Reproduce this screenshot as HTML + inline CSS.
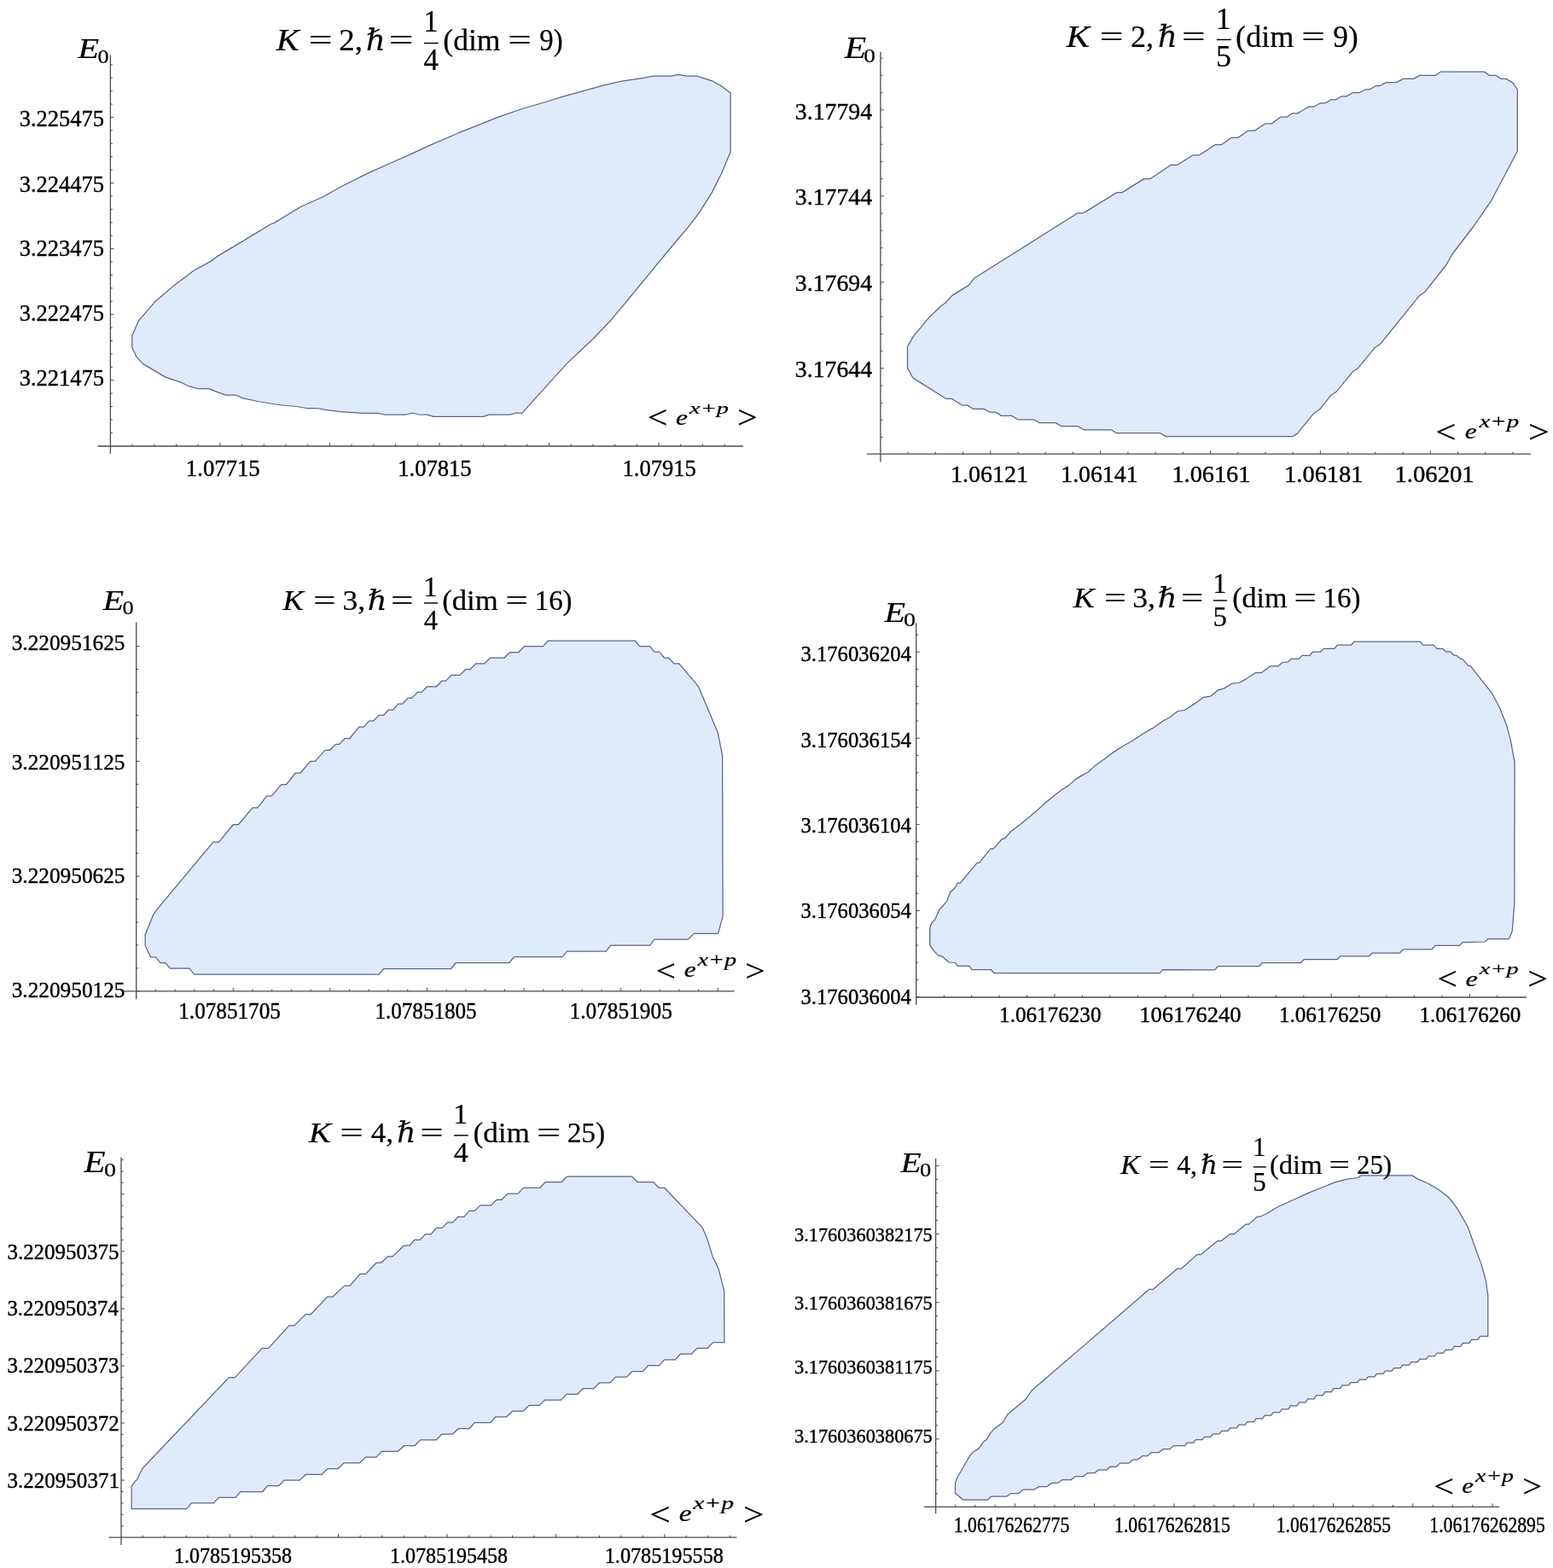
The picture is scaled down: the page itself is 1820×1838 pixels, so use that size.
<!DOCTYPE html>
<html><head><meta charset="utf-8"><style>
html,body{margin:0;padding:0;background:#fff;}
svg{display:block;}
text{font-family:"Liberation Serif","DejaVu Serif",serif;fill:#000;font-kerning:none;stroke:#000;stroke-width:0.22px;}
text.t{stroke-width:0.4px;}
</style></head><body>
<svg width="1820" height="1838" viewBox="0 0 1820 1838">
<rect width="1820" height="1838" fill="#fff"/>
<polygon points="339.8,250.0 322.0,260.9 316.0,263.5 286.4,281.6 254.7,300.4 246.8,306.4 227.0,317.3 215.2,326.2 203.3,335.1 181.5,353.8 162.7,375.6 154.8,393.4 154.8,407.3 159.8,418.1 167.7,426.6 193.4,441.9 211.2,447.8 221.1,452.7 232.0,455.7 244.8,455.7 254.7,459.7 264.6,463.2 276.5,463.2 284.4,466.6 302.2,470.5 325.9,474.5 347.7,476.5 359.6,478.5 371.4,478.5 381.3,480.4 397.1,482.4 424.8,484.4 442.6,484.4 450.6,486.0 476.3,486.0 483.2,484.0 490.1,486.0 501.1,486.1 508.1,488.4 566.2,488.4 573.2,486.1 597.8,486.1 604.8,484.0 611.6,484.3 664.6,425.9 682.2,409.2 694.5,397.8 715.6,375.8 794.7,280.0 804.8,268.4 819.6,249.1 834.5,225.4 846.3,201.7 856.1,177.9 856.1,109.1 846.3,101.4 834.5,94.8 816.6,89.2 804.8,89.2 794.4,87.4 787.0,89.2 766.2,89.2 754.3,91.3 727.6,95.4 706.9,100.2 656.4,114.1 644.5,118.0 611.9,127.5 582.2,137.9 567.4,143.8 537.7,155.7 508.0,168.4 484.3,179.4 457.6,191.3 430.9,203.1 401.2,218.0 377.5,231.3 353.7,241.7" fill="#dfebfa" stroke="#5f6190" stroke-width="1.25" stroke-linejoin="round"/>
<line x1="129.4" y1="64.4" x2="129.4" y2="531.7" stroke="#4a4a4a" stroke-width="1.3"/>
<line x1="114.5" y1="523.0" x2="870.9" y2="523.0" stroke="#4a4a4a" stroke-width="1.3"/>
<line x1="129.4" y1="75.9" x2="131.9" y2="75.9" stroke="#4a4a4a" stroke-width="1.0"/>
<line x1="129.4" y1="91.3" x2="131.9" y2="91.3" stroke="#4a4a4a" stroke-width="1.0"/>
<line x1="129.4" y1="106.7" x2="131.9" y2="106.7" stroke="#4a4a4a" stroke-width="1.0"/>
<line x1="129.4" y1="122.1" x2="131.9" y2="122.1" stroke="#4a4a4a" stroke-width="1.0"/>
<line x1="129.4" y1="137.5" x2="133.4" y2="137.5" stroke="#4a4a4a" stroke-width="1.0"/>
<line x1="129.4" y1="152.9" x2="131.9" y2="152.9" stroke="#4a4a4a" stroke-width="1.0"/>
<line x1="129.4" y1="168.3" x2="131.9" y2="168.3" stroke="#4a4a4a" stroke-width="1.0"/>
<line x1="129.4" y1="183.7" x2="131.9" y2="183.7" stroke="#4a4a4a" stroke-width="1.0"/>
<line x1="129.4" y1="199.1" x2="131.9" y2="199.1" stroke="#4a4a4a" stroke-width="1.0"/>
<line x1="129.4" y1="214.6" x2="133.4" y2="214.6" stroke="#4a4a4a" stroke-width="1.0"/>
<line x1="129.4" y1="230.0" x2="131.9" y2="230.0" stroke="#4a4a4a" stroke-width="1.0"/>
<line x1="129.4" y1="245.4" x2="131.9" y2="245.4" stroke="#4a4a4a" stroke-width="1.0"/>
<line x1="129.4" y1="260.8" x2="131.9" y2="260.8" stroke="#4a4a4a" stroke-width="1.0"/>
<line x1="129.4" y1="276.2" x2="131.9" y2="276.2" stroke="#4a4a4a" stroke-width="1.0"/>
<line x1="129.4" y1="291.6" x2="133.4" y2="291.6" stroke="#4a4a4a" stroke-width="1.0"/>
<line x1="129.4" y1="307.0" x2="131.9" y2="307.0" stroke="#4a4a4a" stroke-width="1.0"/>
<line x1="129.4" y1="322.4" x2="131.9" y2="322.4" stroke="#4a4a4a" stroke-width="1.0"/>
<line x1="129.4" y1="337.8" x2="131.9" y2="337.8" stroke="#4a4a4a" stroke-width="1.0"/>
<line x1="129.4" y1="353.2" x2="131.9" y2="353.2" stroke="#4a4a4a" stroke-width="1.0"/>
<line x1="129.4" y1="368.7" x2="133.4" y2="368.7" stroke="#4a4a4a" stroke-width="1.0"/>
<line x1="129.4" y1="384.1" x2="131.9" y2="384.1" stroke="#4a4a4a" stroke-width="1.0"/>
<line x1="129.4" y1="399.5" x2="131.9" y2="399.5" stroke="#4a4a4a" stroke-width="1.0"/>
<line x1="129.4" y1="414.9" x2="131.9" y2="414.9" stroke="#4a4a4a" stroke-width="1.0"/>
<line x1="129.4" y1="430.3" x2="131.9" y2="430.3" stroke="#4a4a4a" stroke-width="1.0"/>
<line x1="129.4" y1="445.7" x2="133.4" y2="445.7" stroke="#4a4a4a" stroke-width="1.0"/>
<line x1="129.4" y1="461.1" x2="131.9" y2="461.1" stroke="#4a4a4a" stroke-width="1.0"/>
<line x1="129.4" y1="476.5" x2="131.9" y2="476.5" stroke="#4a4a4a" stroke-width="1.0"/>
<line x1="129.4" y1="491.9" x2="131.9" y2="491.9" stroke="#4a4a4a" stroke-width="1.0"/>
<line x1="129.4" y1="507.3" x2="131.9" y2="507.3" stroke="#4a4a4a" stroke-width="1.0"/>
<line x1="155.1" y1="523.0" x2="155.1" y2="520.5" stroke="#4a4a4a" stroke-width="1.0"/>
<line x1="180.8" y1="523.0" x2="180.8" y2="520.5" stroke="#4a4a4a" stroke-width="1.0"/>
<line x1="206.5" y1="523.0" x2="206.5" y2="520.5" stroke="#4a4a4a" stroke-width="1.0"/>
<line x1="232.2" y1="523.0" x2="232.2" y2="520.5" stroke="#4a4a4a" stroke-width="1.0"/>
<line x1="257.9" y1="523.0" x2="257.9" y2="519.0" stroke="#4a4a4a" stroke-width="1.0"/>
<line x1="283.6" y1="523.0" x2="283.6" y2="520.5" stroke="#4a4a4a" stroke-width="1.0"/>
<line x1="309.3" y1="523.0" x2="309.3" y2="520.5" stroke="#4a4a4a" stroke-width="1.0"/>
<line x1="335.0" y1="523.0" x2="335.0" y2="520.5" stroke="#4a4a4a" stroke-width="1.0"/>
<line x1="360.7" y1="523.0" x2="360.7" y2="520.5" stroke="#4a4a4a" stroke-width="1.0"/>
<line x1="386.4" y1="523.0" x2="386.4" y2="519.0" stroke="#4a4a4a" stroke-width="1.0"/>
<line x1="412.1" y1="523.0" x2="412.1" y2="520.5" stroke="#4a4a4a" stroke-width="1.0"/>
<line x1="437.9" y1="523.0" x2="437.9" y2="520.5" stroke="#4a4a4a" stroke-width="1.0"/>
<line x1="463.6" y1="523.0" x2="463.6" y2="520.5" stroke="#4a4a4a" stroke-width="1.0"/>
<line x1="489.3" y1="523.0" x2="489.3" y2="520.5" stroke="#4a4a4a" stroke-width="1.0"/>
<line x1="515.0" y1="523.0" x2="515.0" y2="519.0" stroke="#4a4a4a" stroke-width="1.0"/>
<line x1="540.7" y1="523.0" x2="540.7" y2="520.5" stroke="#4a4a4a" stroke-width="1.0"/>
<line x1="566.4" y1="523.0" x2="566.4" y2="520.5" stroke="#4a4a4a" stroke-width="1.0"/>
<line x1="592.1" y1="523.0" x2="592.1" y2="520.5" stroke="#4a4a4a" stroke-width="1.0"/>
<line x1="617.8" y1="523.0" x2="617.8" y2="520.5" stroke="#4a4a4a" stroke-width="1.0"/>
<line x1="643.5" y1="523.0" x2="643.5" y2="519.0" stroke="#4a4a4a" stroke-width="1.0"/>
<line x1="669.2" y1="523.0" x2="669.2" y2="520.5" stroke="#4a4a4a" stroke-width="1.0"/>
<line x1="694.9" y1="523.0" x2="694.9" y2="520.5" stroke="#4a4a4a" stroke-width="1.0"/>
<line x1="720.6" y1="523.0" x2="720.6" y2="520.5" stroke="#4a4a4a" stroke-width="1.0"/>
<line x1="746.3" y1="523.0" x2="746.3" y2="520.5" stroke="#4a4a4a" stroke-width="1.0"/>
<line x1="772.0" y1="523.0" x2="772.0" y2="519.0" stroke="#4a4a4a" stroke-width="1.0"/>
<line x1="797.7" y1="523.0" x2="797.7" y2="520.5" stroke="#4a4a4a" stroke-width="1.0"/>
<line x1="823.4" y1="523.0" x2="823.4" y2="520.5" stroke="#4a4a4a" stroke-width="1.0"/>
<line x1="849.1" y1="523.0" x2="849.1" y2="520.5" stroke="#4a4a4a" stroke-width="1.0"/>
<text x="22.63" y="148.40" font-size="26.60" textLength="99.51" lengthAdjust="spacingAndGlyphs" class="t">3.225475</text>
<text x="22.63" y="224.80" font-size="26.60" textLength="99.51" lengthAdjust="spacingAndGlyphs" class="t">3.224475</text>
<text x="22.63" y="300.10" font-size="26.60" textLength="99.51" lengthAdjust="spacingAndGlyphs" class="t">3.223475</text>
<text x="22.63" y="375.90" font-size="26.60" textLength="99.51" lengthAdjust="spacingAndGlyphs" class="t">3.222475</text>
<text x="22.63" y="452.30" font-size="26.60" textLength="99.51" lengthAdjust="spacingAndGlyphs" class="t">3.221475</text>
<text x="217.85" y="558.30" font-size="27.00" textLength="86.89" lengthAdjust="spacingAndGlyphs" class="t">1.07715</text>
<text x="466.26" y="558.30" font-size="27.00" textLength="86.37" lengthAdjust="spacingAndGlyphs" class="t">1.07815</text>
<text x="729.57" y="558.30" font-size="27.00" textLength="86.27" lengthAdjust="spacingAndGlyphs" class="t">1.07915</text>
<text x="91.38" y="68.45" font-size="33.60" textLength="24.88" lengthAdjust="spacingAndGlyphs" font-style="italic">E</text>
<text x="114.40" y="74.02" font-size="23.12" textLength="13.09" lengthAdjust="spacingAndGlyphs">0</text>
<text x="758.70" y="502.32" font-size="37.10" textLength="23.75" lengthAdjust="spacingAndGlyphs">&lt;</text>
<text x="864.06" y="502.32" font-size="37.10" textLength="23.75" lengthAdjust="spacingAndGlyphs">&gt;</text>
<text x="792.13" y="497.99" font-size="26.20" textLength="13.98" lengthAdjust="spacingAndGlyphs" font-style="italic">e</text>
<text x="808.05" y="484.74" font-size="19.80" textLength="45.91" lengthAdjust="spacingAndGlyphs" font-style="italic">x+p</text>
<text x="323.87" y="59.20" font-size="34.80" textLength="26.80" lengthAdjust="spacingAndGlyphs" font-style="italic">K</text>
<text x="361.75" y="59.20" font-size="34.80" textLength="27.75" lengthAdjust="spacingAndGlyphs">=</text>
<text x="397.38" y="59.20" font-size="34.80" textLength="27.64" lengthAdjust="spacingAndGlyphs">2,</text>
<text x="428.99" y="59.20" font-size="34.80" textLength="22.75" lengthAdjust="spacingAndGlyphs" font-style="italic" font-family="DejaVu Serif, serif">ℏ</text>
<text x="455.86" y="59.20" font-size="34.80" textLength="28.72" lengthAdjust="spacingAndGlyphs">=</text>
<text x="519.34" y="59.20" font-size="34.80" textLength="67.12" lengthAdjust="spacingAndGlyphs">(dim</text>
<text x="595.37" y="59.20" font-size="34.80" textLength="27.51" lengthAdjust="spacingAndGlyphs">=</text>
<text x="632.35" y="59.20" font-size="34.80" textLength="27.19" lengthAdjust="spacingAndGlyphs">9)</text>
<line x1="496.9" y1="50.6" x2="513.8" y2="50.6" stroke="#000" stroke-width="1.45"/>
<text x="496.17" y="36.50" font-size="34.80" textLength="17.40" lengthAdjust="spacingAndGlyphs">1</text>
<text x="496.58" y="82.40" font-size="34.80" textLength="17.40" lengthAdjust="spacingAndGlyphs">4</text>
<polygon points="1262.6,250.0 1141.5,326.2 1135.7,334.1 1115.9,346.4 1108.5,354.7 1102.7,358.8 1089.6,371.2 1069.8,395.1 1063.5,406.6 1063.5,431.3 1069.8,442.9 1108.5,467.3 1115.1,467.3 1127.5,475.0 1134.1,475.0 1140.7,479.4 1153.0,479.4 1160.4,483.2 1167.0,483.2 1173.6,487.4 1186.0,487.4 1192.6,491.8 1211.5,491.8 1218.1,495.6 1237.1,495.6 1243.7,499.7 1263.5,499.7 1270.1,503.8 1302.2,503.8 1308.0,507.5 1359.8,507.7 1366.4,511.6 1514.7,511.6 1520.2,508.4 1540.0,484.2 1546.6,479.8 1559.8,463.3 1566.4,458.9 1585.1,435.8 1591.6,431.4 1611.4,407.3 1618.0,402.9 1663.1,346.8 1669.7,342.4 1694.9,310.5 1701.5,298.5 1726.8,265.5 1736.6,251.3 1747.1,236.2 1778.3,177.3 1778.3,104.8 1772.8,97.2 1765.2,92.4 1759.2,92.4 1753.2,88.4 1745.6,88.4 1739.6,84.2 1688.2,84.2 1682.2,88.4 1664.0,88.4 1656.5,92.4 1644.4,92.4 1636.8,96.6 1624.7,96.6 1617.2,100.5 1612.7,100.5 1605.1,104.8 1600.6,104.8 1593.0,108.7 1585.4,108.7 1577.9,112.9 1571.8,112.9 1565.8,116.8 1559.8,116.8 1553.7,120.8 1547.7,120.8 1540.1,125.0 1534.1,125.0 1520.5,132.9 1514.4,132.9 1508.4,137.1 1500.8,137.1 1490.3,144.9 1482.7,144.9 1470.6,153.1 1463.1,153.1 1451.0,161.3 1443.4,161.3 1431.3,169.7 1423.8,169.7 1405.6,181.8 1398.1,181.8 1380.0,193.3 1372.4,193.3 1348.2,209.6 1340.7,209.6 1315.0,225.6 1308.9,225.6 1269.6,249.8 1263.6,249.8" fill="#dfebfa" stroke="#5f6190" stroke-width="1.25" stroke-linejoin="round"/>
<line x1="1031.9" y1="60.7" x2="1031.9" y2="541.5" stroke="#4a4a4a" stroke-width="1.3"/>
<line x1="1015.8" y1="532.1" x2="1794.2" y2="532.1" stroke="#4a4a4a" stroke-width="1.3"/>
<line x1="1031.9" y1="68.2" x2="1034.4" y2="68.2" stroke="#4a4a4a" stroke-width="1.0"/>
<line x1="1031.9" y1="88.4" x2="1034.4" y2="88.4" stroke="#4a4a4a" stroke-width="1.0"/>
<line x1="1031.9" y1="108.6" x2="1034.4" y2="108.6" stroke="#4a4a4a" stroke-width="1.0"/>
<line x1="1031.9" y1="128.8" x2="1035.9" y2="128.8" stroke="#4a4a4a" stroke-width="1.0"/>
<line x1="1031.9" y1="149.0" x2="1034.4" y2="149.0" stroke="#4a4a4a" stroke-width="1.0"/>
<line x1="1031.9" y1="169.2" x2="1034.4" y2="169.2" stroke="#4a4a4a" stroke-width="1.0"/>
<line x1="1031.9" y1="189.4" x2="1034.4" y2="189.4" stroke="#4a4a4a" stroke-width="1.0"/>
<line x1="1031.9" y1="209.6" x2="1034.4" y2="209.6" stroke="#4a4a4a" stroke-width="1.0"/>
<line x1="1031.9" y1="229.8" x2="1035.9" y2="229.8" stroke="#4a4a4a" stroke-width="1.0"/>
<line x1="1031.9" y1="250.0" x2="1034.4" y2="250.0" stroke="#4a4a4a" stroke-width="1.0"/>
<line x1="1031.9" y1="270.2" x2="1034.4" y2="270.2" stroke="#4a4a4a" stroke-width="1.0"/>
<line x1="1031.9" y1="290.4" x2="1034.4" y2="290.4" stroke="#4a4a4a" stroke-width="1.0"/>
<line x1="1031.9" y1="310.6" x2="1034.4" y2="310.6" stroke="#4a4a4a" stroke-width="1.0"/>
<line x1="1031.9" y1="330.8" x2="1035.9" y2="330.8" stroke="#4a4a4a" stroke-width="1.0"/>
<line x1="1031.9" y1="351.0" x2="1034.4" y2="351.0" stroke="#4a4a4a" stroke-width="1.0"/>
<line x1="1031.9" y1="371.2" x2="1034.4" y2="371.2" stroke="#4a4a4a" stroke-width="1.0"/>
<line x1="1031.9" y1="391.4" x2="1034.4" y2="391.4" stroke="#4a4a4a" stroke-width="1.0"/>
<line x1="1031.9" y1="411.6" x2="1034.4" y2="411.6" stroke="#4a4a4a" stroke-width="1.0"/>
<line x1="1031.9" y1="431.8" x2="1035.9" y2="431.8" stroke="#4a4a4a" stroke-width="1.0"/>
<line x1="1031.9" y1="452.0" x2="1034.4" y2="452.0" stroke="#4a4a4a" stroke-width="1.0"/>
<line x1="1031.9" y1="472.2" x2="1034.4" y2="472.2" stroke="#4a4a4a" stroke-width="1.0"/>
<line x1="1031.9" y1="492.4" x2="1034.4" y2="492.4" stroke="#4a4a4a" stroke-width="1.0"/>
<line x1="1031.9" y1="512.6" x2="1034.4" y2="512.6" stroke="#4a4a4a" stroke-width="1.0"/>
<line x1="1064.1" y1="532.1" x2="1064.1" y2="529.6" stroke="#4a4a4a" stroke-width="1.0"/>
<line x1="1096.3" y1="532.1" x2="1096.3" y2="529.6" stroke="#4a4a4a" stroke-width="1.0"/>
<line x1="1128.5" y1="532.1" x2="1128.5" y2="529.6" stroke="#4a4a4a" stroke-width="1.0"/>
<line x1="1160.8" y1="532.1" x2="1160.8" y2="528.1" stroke="#4a4a4a" stroke-width="1.0"/>
<line x1="1193.0" y1="532.1" x2="1193.0" y2="529.6" stroke="#4a4a4a" stroke-width="1.0"/>
<line x1="1225.2" y1="532.1" x2="1225.2" y2="529.6" stroke="#4a4a4a" stroke-width="1.0"/>
<line x1="1257.4" y1="532.1" x2="1257.4" y2="529.6" stroke="#4a4a4a" stroke-width="1.0"/>
<line x1="1289.6" y1="532.1" x2="1289.6" y2="528.1" stroke="#4a4a4a" stroke-width="1.0"/>
<line x1="1321.9" y1="532.1" x2="1321.9" y2="529.6" stroke="#4a4a4a" stroke-width="1.0"/>
<line x1="1354.1" y1="532.1" x2="1354.1" y2="529.6" stroke="#4a4a4a" stroke-width="1.0"/>
<line x1="1386.3" y1="532.1" x2="1386.3" y2="529.6" stroke="#4a4a4a" stroke-width="1.0"/>
<line x1="1418.5" y1="532.1" x2="1418.5" y2="528.1" stroke="#4a4a4a" stroke-width="1.0"/>
<line x1="1450.7" y1="532.1" x2="1450.7" y2="529.6" stroke="#4a4a4a" stroke-width="1.0"/>
<line x1="1483.0" y1="532.1" x2="1483.0" y2="529.6" stroke="#4a4a4a" stroke-width="1.0"/>
<line x1="1515.2" y1="532.1" x2="1515.2" y2="529.6" stroke="#4a4a4a" stroke-width="1.0"/>
<line x1="1547.4" y1="532.1" x2="1547.4" y2="528.1" stroke="#4a4a4a" stroke-width="1.0"/>
<line x1="1579.6" y1="532.1" x2="1579.6" y2="529.6" stroke="#4a4a4a" stroke-width="1.0"/>
<line x1="1611.8" y1="532.1" x2="1611.8" y2="529.6" stroke="#4a4a4a" stroke-width="1.0"/>
<line x1="1644.1" y1="532.1" x2="1644.1" y2="529.6" stroke="#4a4a4a" stroke-width="1.0"/>
<line x1="1676.3" y1="532.1" x2="1676.3" y2="528.1" stroke="#4a4a4a" stroke-width="1.0"/>
<line x1="1708.5" y1="532.1" x2="1708.5" y2="529.6" stroke="#4a4a4a" stroke-width="1.0"/>
<line x1="1740.7" y1="532.1" x2="1740.7" y2="529.6" stroke="#4a4a4a" stroke-width="1.0"/>
<line x1="1772.9" y1="532.1" x2="1772.9" y2="529.6" stroke="#4a4a4a" stroke-width="1.0"/>
<text x="931.87" y="140.20" font-size="28.30" textLength="90.16" lengthAdjust="spacingAndGlyphs" class="t">3.17794</text>
<text x="931.87" y="240.10" font-size="28.30" textLength="90.16" lengthAdjust="spacingAndGlyphs" class="t">3.17744</text>
<text x="931.87" y="340.90" font-size="28.30" textLength="90.16" lengthAdjust="spacingAndGlyphs" class="t">3.17694</text>
<text x="931.87" y="441.70" font-size="28.30" textLength="90.16" lengthAdjust="spacingAndGlyphs" class="t">3.17644</text>
<text x="1114.04" y="564.50" font-size="27.60" textLength="90.94" lengthAdjust="spacingAndGlyphs" class="t">1.06121</text>
<text x="1243.26" y="564.50" font-size="27.60" textLength="90.31" lengthAdjust="spacingAndGlyphs" class="t">1.06141</text>
<text x="1373.41" y="564.50" font-size="27.60" textLength="91.99" lengthAdjust="spacingAndGlyphs" class="t">1.06161</text>
<text x="1505.10" y="564.50" font-size="27.60" textLength="92.41" lengthAdjust="spacingAndGlyphs" class="t">1.06181</text>
<text x="1634.48" y="564.50" font-size="27.60" textLength="93.24" lengthAdjust="spacingAndGlyphs" class="t">1.06201</text>
<text x="989.69" y="67.55" font-size="35.28" textLength="25.48" lengthAdjust="spacingAndGlyphs" font-style="italic">E</text>
<text x="1012.36" y="72.82" font-size="23.71" textLength="13.68" lengthAdjust="spacingAndGlyphs">0</text>
<text x="1682.16" y="518.66" font-size="37.52" textLength="24.24" lengthAdjust="spacingAndGlyphs">&lt;</text>
<text x="1790.98" y="518.66" font-size="37.52" textLength="24.60" lengthAdjust="spacingAndGlyphs">&gt;</text>
<text x="1716.83" y="514.09" font-size="26.20" textLength="13.98" lengthAdjust="spacingAndGlyphs" font-style="italic">e</text>
<text x="1733.55" y="500.81" font-size="20.39" textLength="46.62" lengthAdjust="spacingAndGlyphs" font-style="italic">x+p</text>
<text x="1249.49" y="55.00" font-size="35.90" textLength="27.63" lengthAdjust="spacingAndGlyphs" font-style="italic">K</text>
<text x="1288.75" y="55.00" font-size="35.90" textLength="27.75" lengthAdjust="spacingAndGlyphs">=</text>
<text x="1325.01" y="55.00" font-size="35.90" textLength="27.06" lengthAdjust="spacingAndGlyphs">2,</text>
<text x="1356.99" y="55.00" font-size="35.90" textLength="22.75" lengthAdjust="spacingAndGlyphs" font-style="italic" font-family="DejaVu Serif, serif">ℏ</text>
<text x="1384.97" y="55.00" font-size="35.90" textLength="27.51" lengthAdjust="spacingAndGlyphs">=</text>
<text x="1448.11" y="55.00" font-size="35.90" textLength="68.36" lengthAdjust="spacingAndGlyphs">(dim</text>
<text x="1525.37" y="55.00" font-size="35.90" textLength="27.51" lengthAdjust="spacingAndGlyphs">=</text>
<text x="1562.26" y="55.00" font-size="35.90" textLength="29.39" lengthAdjust="spacingAndGlyphs">9)</text>
<line x1="1425.9" y1="46.5" x2="1442.7" y2="46.5" stroke="#000" stroke-width="1.45"/>
<text x="1424.83" y="33.60" font-size="35.90" textLength="17.95" lengthAdjust="spacingAndGlyphs">1</text>
<text x="1424.98" y="78.10" font-size="35.90" textLength="17.95" lengthAdjust="spacingAndGlyphs">5</text>
<polygon points="170.2,1095.1 171.5,1092.6 179.8,1072.0 183.1,1067.1 249.8,987.1 256.4,987.1 273.4,966.5 279.5,966.5 296.0,946.8 301.8,946.8 312.5,933.1 318.2,933.1 329.8,919.6 335.5,919.6 346.3,906.0 352.0,906.0 363.6,892.4 369.3,892.4 381.0,879.3 386.5,879.3 393.4,872.4 397.5,872.4 404.3,865.5 409.8,865.5 420.8,852.1 426.3,852.1 432.6,845.2 437.3,845.2 444.2,838.4 449.7,838.4 455.2,832.0 460.7,832.0 466.7,825.2 471.6,825.2 478.0,818.3 482.6,818.3 489.5,811.4 494.2,811.4 500.5,804.8 511.5,804.8 517.8,798.2 522.5,798.2 528.8,791.4 539.0,791.4 545.8,784.5 551.3,784.5 557.6,777.9 567.8,777.9 574.7,771.0 591.2,771.0 597.5,764.5 607.6,764.5 614.5,757.6 636.5,757.6 642.5,751.0 744.2,751.0 749.7,757.6 761.5,757.6 767.0,764.2 772.5,764.2 778.5,771.0 783.5,771.0 789.8,777.9 795.8,777.9 818.4,804.6 841.2,858.7 846.6,885.6 847.1,1074.1 841.6,1094.3 813.0,1094.3 806.7,1101.2 766.8,1101.2 761.7,1108.2 715.7,1108.2 710.2,1115.1 664.7,1115.1 658.8,1121.6 602.5,1121.6 596.9,1128.5 534.2,1128.5 528.7,1135.5 449.8,1135.5 444.0,1142.2 227.6,1142.1 221.8,1135.2 199.2,1135.2 193.8,1128.6 188.0,1128.6 182.3,1121.8 176.5,1121.8 170.2,1108.3" fill="#dfebfa" stroke="#5f6190" stroke-width="1.25" stroke-linejoin="round"/>
<line x1="159.7" y1="729.5" x2="159.7" y2="1171.3" stroke="#4a4a4a" stroke-width="1.3"/>
<line x1="145.3" y1="1161.9" x2="860.7" y2="1161.9" stroke="#4a4a4a" stroke-width="1.3"/>
<line x1="159.7" y1="757.7" x2="163.7" y2="757.7" stroke="#4a4a4a" stroke-width="1.0"/>
<line x1="159.7" y1="784.6" x2="162.2" y2="784.6" stroke="#4a4a4a" stroke-width="1.0"/>
<line x1="159.7" y1="811.6" x2="162.2" y2="811.6" stroke="#4a4a4a" stroke-width="1.0"/>
<line x1="159.7" y1="838.5" x2="162.2" y2="838.5" stroke="#4a4a4a" stroke-width="1.0"/>
<line x1="159.7" y1="865.5" x2="162.2" y2="865.5" stroke="#4a4a4a" stroke-width="1.0"/>
<line x1="159.7" y1="892.4" x2="163.7" y2="892.4" stroke="#4a4a4a" stroke-width="1.0"/>
<line x1="159.7" y1="919.3" x2="162.2" y2="919.3" stroke="#4a4a4a" stroke-width="1.0"/>
<line x1="159.7" y1="946.3" x2="162.2" y2="946.3" stroke="#4a4a4a" stroke-width="1.0"/>
<line x1="159.7" y1="973.2" x2="162.2" y2="973.2" stroke="#4a4a4a" stroke-width="1.0"/>
<line x1="159.7" y1="1000.2" x2="162.2" y2="1000.2" stroke="#4a4a4a" stroke-width="1.0"/>
<line x1="159.7" y1="1027.1" x2="163.7" y2="1027.1" stroke="#4a4a4a" stroke-width="1.0"/>
<line x1="159.7" y1="1054.0" x2="162.2" y2="1054.0" stroke="#4a4a4a" stroke-width="1.0"/>
<line x1="159.7" y1="1081.0" x2="162.2" y2="1081.0" stroke="#4a4a4a" stroke-width="1.0"/>
<line x1="159.7" y1="1107.9" x2="162.2" y2="1107.9" stroke="#4a4a4a" stroke-width="1.0"/>
<line x1="159.7" y1="1134.9" x2="162.2" y2="1134.9" stroke="#4a4a4a" stroke-width="1.0"/>
<line x1="159.7" y1="1161.8" x2="163.7" y2="1161.8" stroke="#4a4a4a" stroke-width="1.0"/>
<line x1="182.4" y1="1161.9" x2="182.4" y2="1159.4" stroke="#4a4a4a" stroke-width="1.0"/>
<line x1="205.1" y1="1161.9" x2="205.1" y2="1159.4" stroke="#4a4a4a" stroke-width="1.0"/>
<line x1="227.8" y1="1161.9" x2="227.8" y2="1159.4" stroke="#4a4a4a" stroke-width="1.0"/>
<line x1="250.6" y1="1161.9" x2="250.6" y2="1159.4" stroke="#4a4a4a" stroke-width="1.0"/>
<line x1="273.3" y1="1161.9" x2="273.3" y2="1157.9" stroke="#4a4a4a" stroke-width="1.0"/>
<line x1="296.0" y1="1161.9" x2="296.0" y2="1159.4" stroke="#4a4a4a" stroke-width="1.0"/>
<line x1="318.7" y1="1161.9" x2="318.7" y2="1159.4" stroke="#4a4a4a" stroke-width="1.0"/>
<line x1="341.4" y1="1161.9" x2="341.4" y2="1159.4" stroke="#4a4a4a" stroke-width="1.0"/>
<line x1="364.2" y1="1161.9" x2="364.2" y2="1159.4" stroke="#4a4a4a" stroke-width="1.0"/>
<line x1="386.9" y1="1161.9" x2="386.9" y2="1157.9" stroke="#4a4a4a" stroke-width="1.0"/>
<line x1="409.6" y1="1161.9" x2="409.6" y2="1159.4" stroke="#4a4a4a" stroke-width="1.0"/>
<line x1="432.3" y1="1161.9" x2="432.3" y2="1159.4" stroke="#4a4a4a" stroke-width="1.0"/>
<line x1="455.0" y1="1161.9" x2="455.0" y2="1159.4" stroke="#4a4a4a" stroke-width="1.0"/>
<line x1="477.8" y1="1161.9" x2="477.8" y2="1159.4" stroke="#4a4a4a" stroke-width="1.0"/>
<line x1="500.5" y1="1161.9" x2="500.5" y2="1157.9" stroke="#4a4a4a" stroke-width="1.0"/>
<line x1="523.2" y1="1161.9" x2="523.2" y2="1159.4" stroke="#4a4a4a" stroke-width="1.0"/>
<line x1="545.9" y1="1161.9" x2="545.9" y2="1159.4" stroke="#4a4a4a" stroke-width="1.0"/>
<line x1="568.6" y1="1161.9" x2="568.6" y2="1159.4" stroke="#4a4a4a" stroke-width="1.0"/>
<line x1="591.4" y1="1161.9" x2="591.4" y2="1159.4" stroke="#4a4a4a" stroke-width="1.0"/>
<line x1="614.1" y1="1161.9" x2="614.1" y2="1157.9" stroke="#4a4a4a" stroke-width="1.0"/>
<line x1="636.8" y1="1161.9" x2="636.8" y2="1159.4" stroke="#4a4a4a" stroke-width="1.0"/>
<line x1="659.5" y1="1161.9" x2="659.5" y2="1159.4" stroke="#4a4a4a" stroke-width="1.0"/>
<line x1="682.2" y1="1161.9" x2="682.2" y2="1159.4" stroke="#4a4a4a" stroke-width="1.0"/>
<line x1="705.0" y1="1161.9" x2="705.0" y2="1159.4" stroke="#4a4a4a" stroke-width="1.0"/>
<line x1="727.7" y1="1161.9" x2="727.7" y2="1157.9" stroke="#4a4a4a" stroke-width="1.0"/>
<line x1="750.4" y1="1161.9" x2="750.4" y2="1159.4" stroke="#4a4a4a" stroke-width="1.0"/>
<line x1="773.1" y1="1161.9" x2="773.1" y2="1159.4" stroke="#4a4a4a" stroke-width="1.0"/>
<line x1="795.8" y1="1161.9" x2="795.8" y2="1159.4" stroke="#4a4a4a" stroke-width="1.0"/>
<line x1="818.6" y1="1161.9" x2="818.6" y2="1159.4" stroke="#4a4a4a" stroke-width="1.0"/>
<line x1="841.3" y1="1161.9" x2="841.3" y2="1157.9" stroke="#4a4a4a" stroke-width="1.0"/>
<text x="13.69" y="762.20" font-size="25.80" textLength="132.80" lengthAdjust="spacingAndGlyphs" class="t">3.220951625</text>
<text x="13.69" y="902.30" font-size="25.80" textLength="132.80" lengthAdjust="spacingAndGlyphs" class="t">3.220951125</text>
<text x="13.69" y="1035.20" font-size="25.80" textLength="132.80" lengthAdjust="spacingAndGlyphs" class="t">3.220950625</text>
<text x="13.69" y="1169.20" font-size="25.80" textLength="132.80" lengthAdjust="spacingAndGlyphs" class="t">3.220950125</text>
<text x="209.29" y="1194.20" font-size="26.40" textLength="119.60" lengthAdjust="spacingAndGlyphs" class="t">1.07851705</text>
<text x="439.39" y="1194.20" font-size="26.40" textLength="119.29" lengthAdjust="spacingAndGlyphs" class="t">1.07851805</text>
<text x="667.58" y="1194.20" font-size="26.40" textLength="120.21" lengthAdjust="spacingAndGlyphs" class="t">1.07851905</text>
<text x="120.57" y="714.55" font-size="33.75" textLength="24.58" lengthAdjust="spacingAndGlyphs" font-style="italic">E</text>
<text x="143.49" y="720.12" font-size="23.56" textLength="13.21" lengthAdjust="spacingAndGlyphs">0</text>
<text x="768.75" y="1149.66" font-size="36.48" textLength="23.27" lengthAdjust="spacingAndGlyphs">&lt;</text>
<text x="873.30" y="1149.66" font-size="36.48" textLength="23.27" lengthAdjust="spacingAndGlyphs">&gt;</text>
<text x="801.73" y="1145.30" font-size="25.16" textLength="13.98" lengthAdjust="spacingAndGlyphs" font-style="italic">e</text>
<text x="817.64" y="1132.41" font-size="20.39" textLength="45.51" lengthAdjust="spacingAndGlyphs" font-style="italic">x+p</text>
<text x="331.33" y="715.40" font-size="32.80" textLength="24.68" lengthAdjust="spacingAndGlyphs" font-style="italic">K</text>
<text x="367.18" y="715.40" font-size="32.80" textLength="26.30" lengthAdjust="spacingAndGlyphs">=</text>
<text x="401.40" y="715.40" font-size="32.80" textLength="26.64" lengthAdjust="spacingAndGlyphs">3,</text>
<text x="430.99" y="715.40" font-size="32.80" textLength="22.75" lengthAdjust="spacingAndGlyphs" font-style="italic" font-family="DejaVu Serif, serif">ℏ</text>
<text x="458.07" y="715.40" font-size="32.80" textLength="26.42" lengthAdjust="spacingAndGlyphs">=</text>
<text x="518.28" y="715.40" font-size="32.80" textLength="65.36" lengthAdjust="spacingAndGlyphs">(dim</text>
<text x="592.57" y="715.40" font-size="32.80" textLength="26.42" lengthAdjust="spacingAndGlyphs">=</text>
<text x="626.71" y="715.40" font-size="32.80" textLength="43.84" lengthAdjust="spacingAndGlyphs">16)</text>
<line x1="497.0" y1="706.9" x2="512.9" y2="706.9" stroke="#000" stroke-width="1.45"/>
<text x="496.29" y="698.60" font-size="32.80" textLength="16.40" lengthAdjust="spacingAndGlyphs">1</text>
<text x="496.69" y="737.80" font-size="32.80" textLength="16.40" lengthAdjust="spacingAndGlyphs">4</text>
<polygon points="1089.8,1088.0 1091.9,1081.7 1095.7,1077.9 1100.7,1066.5 1109.6,1056.4 1113.4,1046.3 1119.7,1040.0 1122.0,1035.2 1125.3,1035.2 1145.1,1011.3 1147.6,1011.3 1160.8,994.8 1164.1,994.8 1174.8,983.0 1177.3,983.0 1184.7,974.7 1195.4,966.5 1205.3,958.6 1215.2,950.3 1223.4,942.6 1233.3,934.2 1243.2,926.4 1251.4,921.5 1259.7,914.1 1266.3,909.9 1275.3,905.0 1282.7,897.9 1294.3,889.7 1305.8,881.1 1317.4,873.7 1327.3,868.2 1338.0,861.0 1350.3,853.9 1363.5,844.8 1370.0,841.5 1380.4,833.5 1388.5,832.3 1400.0,824.9 1410.4,817.3 1418.5,816.2 1427.7,808.8 1434.6,806.9 1443.8,801.2 1451.9,800.5 1460.0,796.1 1471.5,788.5 1478.5,788.5 1488.8,780.8 1498.1,780.8 1502.7,776.5 1509.6,775.8 1513.1,772.3 1522.3,772.3 1525.8,768.4 1535.0,768.4 1538.5,764.2 1547.7,764.2 1551.2,760.3 1563.8,760.3 1567.3,756.2 1583.5,756.2 1586.9,752.0 1664.2,752.0 1667.7,756.2 1680.4,756.2 1683.8,760.3 1690.8,760.3 1694.2,763.8 1700.0,763.8 1703.5,768.2 1706.9,768.2 1711.5,772.3 1713.8,772.3 1720.8,780.4 1723.1,780.4 1748.5,812.7 1757.7,830.0 1765.8,850.8 1770.4,868.1 1775.0,893.5 1774.8,1059.4 1772.2,1091.6 1768.4,1100.7 1743.8,1100.7 1740.0,1104.0 1714.1,1104.6 1710.2,1108.4 1681.8,1108.4 1678.0,1112.8 1644.4,1112.8 1640.5,1117.0 1608.2,1117.0 1604.4,1120.8 1570.8,1120.8 1566.9,1124.7 1528.2,1124.7 1524.3,1128.6 1479.1,1128.6 1476.0,1132.5 1427.5,1132.5 1423.6,1136.8 1362.3,1136.5 1359.3,1140.6 1164.7,1140.6 1161.4,1136.5 1138.6,1136.5 1136.1,1132.3 1122.2,1132.3 1119.7,1128.5 1112.1,1128.0 1108.3,1124.7 1103.2,1120.4 1100.0,1120.4 1094.4,1114.6 1089.8,1108.2" fill="#dfebfa" stroke="#5f6190" stroke-width="1.25" stroke-linejoin="round"/>
<line x1="1073.7" y1="730.2" x2="1073.7" y2="1177.7" stroke="#4a4a4a" stroke-width="1.3"/>
<line x1="1073.7" y1="1169.0" x2="1789.0" y2="1169.0" stroke="#4a4a4a" stroke-width="1.3"/>
<line x1="1073.7" y1="744.0" x2="1076.2" y2="744.0" stroke="#4a4a4a" stroke-width="1.0"/>
<line x1="1073.7" y1="764.2" x2="1077.7" y2="764.2" stroke="#4a4a4a" stroke-width="1.0"/>
<line x1="1073.7" y1="784.4" x2="1076.2" y2="784.4" stroke="#4a4a4a" stroke-width="1.0"/>
<line x1="1073.7" y1="804.7" x2="1076.2" y2="804.7" stroke="#4a4a4a" stroke-width="1.0"/>
<line x1="1073.7" y1="824.9" x2="1076.2" y2="824.9" stroke="#4a4a4a" stroke-width="1.0"/>
<line x1="1073.7" y1="845.1" x2="1076.2" y2="845.1" stroke="#4a4a4a" stroke-width="1.0"/>
<line x1="1073.7" y1="865.3" x2="1077.7" y2="865.3" stroke="#4a4a4a" stroke-width="1.0"/>
<line x1="1073.7" y1="885.5" x2="1076.2" y2="885.5" stroke="#4a4a4a" stroke-width="1.0"/>
<line x1="1073.7" y1="905.8" x2="1076.2" y2="905.8" stroke="#4a4a4a" stroke-width="1.0"/>
<line x1="1073.7" y1="926.0" x2="1076.2" y2="926.0" stroke="#4a4a4a" stroke-width="1.0"/>
<line x1="1073.7" y1="946.2" x2="1076.2" y2="946.2" stroke="#4a4a4a" stroke-width="1.0"/>
<line x1="1073.7" y1="966.4" x2="1077.7" y2="966.4" stroke="#4a4a4a" stroke-width="1.0"/>
<line x1="1073.7" y1="986.6" x2="1076.2" y2="986.6" stroke="#4a4a4a" stroke-width="1.0"/>
<line x1="1073.7" y1="1006.9" x2="1076.2" y2="1006.9" stroke="#4a4a4a" stroke-width="1.0"/>
<line x1="1073.7" y1="1027.1" x2="1076.2" y2="1027.1" stroke="#4a4a4a" stroke-width="1.0"/>
<line x1="1073.7" y1="1047.3" x2="1076.2" y2="1047.3" stroke="#4a4a4a" stroke-width="1.0"/>
<line x1="1073.7" y1="1067.5" x2="1077.7" y2="1067.5" stroke="#4a4a4a" stroke-width="1.0"/>
<line x1="1073.7" y1="1087.7" x2="1076.2" y2="1087.7" stroke="#4a4a4a" stroke-width="1.0"/>
<line x1="1073.7" y1="1108.0" x2="1076.2" y2="1108.0" stroke="#4a4a4a" stroke-width="1.0"/>
<line x1="1073.7" y1="1128.2" x2="1076.2" y2="1128.2" stroke="#4a4a4a" stroke-width="1.0"/>
<line x1="1073.7" y1="1148.4" x2="1076.2" y2="1148.4" stroke="#4a4a4a" stroke-width="1.0"/>
<line x1="1073.7" y1="1168.6" x2="1077.7" y2="1168.6" stroke="#4a4a4a" stroke-width="1.0"/>
<line x1="1106.3" y1="1169.0" x2="1106.3" y2="1166.5" stroke="#4a4a4a" stroke-width="1.0"/>
<line x1="1138.7" y1="1169.0" x2="1138.7" y2="1166.5" stroke="#4a4a4a" stroke-width="1.0"/>
<line x1="1171.1" y1="1169.0" x2="1171.1" y2="1166.5" stroke="#4a4a4a" stroke-width="1.0"/>
<line x1="1203.6" y1="1169.0" x2="1203.6" y2="1166.5" stroke="#4a4a4a" stroke-width="1.0"/>
<line x1="1236.0" y1="1169.0" x2="1236.0" y2="1165.0" stroke="#4a4a4a" stroke-width="1.0"/>
<line x1="1268.4" y1="1169.0" x2="1268.4" y2="1166.5" stroke="#4a4a4a" stroke-width="1.0"/>
<line x1="1300.8" y1="1169.0" x2="1300.8" y2="1166.5" stroke="#4a4a4a" stroke-width="1.0"/>
<line x1="1333.2" y1="1169.0" x2="1333.2" y2="1166.5" stroke="#4a4a4a" stroke-width="1.0"/>
<line x1="1365.7" y1="1169.0" x2="1365.7" y2="1166.5" stroke="#4a4a4a" stroke-width="1.0"/>
<line x1="1398.1" y1="1169.0" x2="1398.1" y2="1165.0" stroke="#4a4a4a" stroke-width="1.0"/>
<line x1="1430.5" y1="1169.0" x2="1430.5" y2="1166.5" stroke="#4a4a4a" stroke-width="1.0"/>
<line x1="1462.9" y1="1169.0" x2="1462.9" y2="1166.5" stroke="#4a4a4a" stroke-width="1.0"/>
<line x1="1495.3" y1="1169.0" x2="1495.3" y2="1166.5" stroke="#4a4a4a" stroke-width="1.0"/>
<line x1="1527.8" y1="1169.0" x2="1527.8" y2="1166.5" stroke="#4a4a4a" stroke-width="1.0"/>
<line x1="1560.2" y1="1169.0" x2="1560.2" y2="1165.0" stroke="#4a4a4a" stroke-width="1.0"/>
<line x1="1592.6" y1="1169.0" x2="1592.6" y2="1166.5" stroke="#4a4a4a" stroke-width="1.0"/>
<line x1="1625.0" y1="1169.0" x2="1625.0" y2="1166.5" stroke="#4a4a4a" stroke-width="1.0"/>
<line x1="1657.4" y1="1169.0" x2="1657.4" y2="1166.5" stroke="#4a4a4a" stroke-width="1.0"/>
<line x1="1689.9" y1="1169.0" x2="1689.9" y2="1166.5" stroke="#4a4a4a" stroke-width="1.0"/>
<line x1="1722.3" y1="1169.0" x2="1722.3" y2="1165.0" stroke="#4a4a4a" stroke-width="1.0"/>
<line x1="1754.7" y1="1169.0" x2="1754.7" y2="1166.5" stroke="#4a4a4a" stroke-width="1.0"/>
<text x="938.42" y="774.60" font-size="25.60" textLength="129.47" lengthAdjust="spacingAndGlyphs" class="t">3.176036204</text>
<text x="938.42" y="876.30" font-size="25.60" textLength="129.47" lengthAdjust="spacingAndGlyphs" class="t">3.176036154</text>
<text x="938.42" y="975.70" font-size="25.60" textLength="129.47" lengthAdjust="spacingAndGlyphs" class="t">3.176036104</text>
<text x="938.42" y="1076.30" font-size="25.60" textLength="129.47" lengthAdjust="spacingAndGlyphs" class="t">3.176036054</text>
<text x="938.42" y="1176.90" font-size="25.60" textLength="129.47" lengthAdjust="spacingAndGlyphs" class="t">3.176036004</text>
<text x="1171.09" y="1198.40" font-size="26.00" textLength="119.37" lengthAdjust="spacingAndGlyphs" class="t">1.06176230</text>
<text x="1335.27" y="1198.40" font-size="26.00" textLength="119.34" lengthAdjust="spacingAndGlyphs" class="t">106176240</text>
<text x="1498.89" y="1198.40" font-size="26.00" textLength="119.37" lengthAdjust="spacingAndGlyphs" class="t">1.06176250</text>
<text x="1663.40" y="1198.40" font-size="26.00" textLength="118.85" lengthAdjust="spacingAndGlyphs" class="t">1.06176260</text>
<text x="1036.47" y="729.35" font-size="33.90" textLength="24.58" lengthAdjust="spacingAndGlyphs" font-style="italic">E</text>
<text x="1059.13" y="734.33" font-size="22.97" textLength="14.04" lengthAdjust="spacingAndGlyphs">0</text>
<text x="1684.43" y="1160.02" font-size="37.10" textLength="23.39" lengthAdjust="spacingAndGlyphs">&lt;</text>
<text x="1790.16" y="1160.02" font-size="37.10" textLength="23.75" lengthAdjust="spacingAndGlyphs">&gt;</text>
<text x="1717.50" y="1155.69" font-size="26.20" textLength="14.43" lengthAdjust="spacingAndGlyphs" font-style="italic">e</text>
<text x="1733.85" y="1142.44" font-size="19.80" textLength="45.81" lengthAdjust="spacingAndGlyphs" font-style="italic">x+p</text>
<text x="1257.84" y="712.40" font-size="32.80" textLength="25.05" lengthAdjust="spacingAndGlyphs" font-style="italic">K</text>
<text x="1294.12" y="712.40" font-size="32.80" textLength="25.81" lengthAdjust="spacingAndGlyphs">=</text>
<text x="1327.29" y="712.40" font-size="32.80" textLength="26.75" lengthAdjust="spacingAndGlyphs">3,</text>
<text x="1356.99" y="712.40" font-size="32.80" textLength="22.75" lengthAdjust="spacingAndGlyphs" font-style="italic" font-family="DejaVu Serif, serif">ℏ</text>
<text x="1384.08" y="712.40" font-size="32.80" textLength="26.30" lengthAdjust="spacingAndGlyphs">=</text>
<text x="1444.20" y="712.40" font-size="32.80" textLength="64.33" lengthAdjust="spacingAndGlyphs">(dim</text>
<text x="1516.57" y="712.40" font-size="32.80" textLength="26.42" lengthAdjust="spacingAndGlyphs">=</text>
<text x="1550.60" y="712.40" font-size="32.80" textLength="43.95" lengthAdjust="spacingAndGlyphs">16)</text>
<line x1="1422.0" y1="703.9" x2="1437.8" y2="703.9" stroke="#000" stroke-width="1.45"/>
<text x="1421.24" y="694.60" font-size="32.80" textLength="16.40" lengthAdjust="spacingAndGlyphs">1</text>
<text x="1421.39" y="733.60" font-size="32.80" textLength="16.40" lengthAdjust="spacingAndGlyphs">5</text>
<polygon points="154.2,1742.2 158.7,1735.9 160.5,1734.6 165.6,1724.0 168.1,1720.0 268.4,1614.6 275.5,1614.6 307.1,1580.4 314.7,1580.4 338.7,1553.9 345.0,1553.9 358.0,1540.6 364.3,1540.6 383.7,1520.0 390.0,1520.0 403.7,1507.1 410.0,1507.1 422.0,1493.4 428.6,1493.4 441.4,1480.0 447.1,1480.0 454.3,1472.9 460.0,1472.9 473.4,1460.0 480.0,1460.0 485.7,1453.4 492.3,1453.4 498.6,1446.6 505.1,1446.6 511.4,1439.4 518.0,1439.4 524.3,1432.9 530.6,1432.9 537.1,1426.3 543.7,1426.3 550.0,1419.4 556.3,1419.4 562.9,1412.9 575.7,1412.9 582.0,1406.3 588.0,1406.3 594.9,1399.1 607.1,1399.1 613.4,1392.3 632.9,1392.3 639.1,1385.7 658.0,1385.7 664.3,1379.1 740.9,1379.1 747.1,1385.7 765.7,1385.7 772.3,1392.3 778.6,1392.3 822.9,1438.6 828.6,1451.4 835.1,1472.9 842.0,1487.1 848.6,1512.9 848.9,1573.6 835.6,1573.6 829.2,1580.4 817.1,1580.4 810.3,1587.0 797.6,1587.0 791.3,1593.8 778.7,1593.8 772.4,1600.7 759.7,1600.7 753.4,1607.5 740.8,1607.5 734.4,1614.1 721.3,1614.1 715.0,1620.9 702.4,1620.9 695.8,1627.7 683.1,1627.7 676.8,1634.3 663.7,1634.3 657.4,1641.1 638.4,1641.1 632.1,1647.4 620.0,1647.4 613.1,1654.2 600.5,1654.2 593.7,1660.8 581.0,1660.8 574.5,1667.6 556.3,1667.6 549.9,1674.5 537.3,1674.5 530.5,1681.0 517.8,1681.0 511.3,1687.9 492.6,1687.9 486.0,1694.7 473.4,1694.7 466.5,1701.3 447.5,1701.3 441.0,1708.1 428.4,1708.1 421.6,1714.9 403.1,1714.9 396.3,1721.5 384.2,1721.5 377.1,1728.3 358.4,1728.3 351.3,1735.1 333.1,1735.1 326.6,1741.7 313.4,1741.7 307.8,1748.5 281.8,1748.5 276.0,1755.3 256.5,1755.3 250.2,1761.9 224.4,1761.9 218.6,1768.7 154.2,1768.7" fill="#dfebfa" stroke="#5f6190" stroke-width="1.25" stroke-linejoin="round"/>
<line x1="142.0" y1="1356.4" x2="142.0" y2="1811.0" stroke="#4a4a4a" stroke-width="1.3"/>
<line x1="127.6" y1="1802.2" x2="863.4" y2="1802.2" stroke="#4a4a4a" stroke-width="1.3"/>
<line x1="142.0" y1="1359.6" x2="144.5" y2="1359.6" stroke="#4a4a4a" stroke-width="1.0"/>
<line x1="142.0" y1="1373.0" x2="144.5" y2="1373.0" stroke="#4a4a4a" stroke-width="1.0"/>
<line x1="142.0" y1="1386.4" x2="144.5" y2="1386.4" stroke="#4a4a4a" stroke-width="1.0"/>
<line x1="142.0" y1="1399.8" x2="146.0" y2="1399.8" stroke="#4a4a4a" stroke-width="1.0"/>
<line x1="142.0" y1="1413.2" x2="144.5" y2="1413.2" stroke="#4a4a4a" stroke-width="1.0"/>
<line x1="142.0" y1="1426.6" x2="144.5" y2="1426.6" stroke="#4a4a4a" stroke-width="1.0"/>
<line x1="142.0" y1="1440.1" x2="144.5" y2="1440.1" stroke="#4a4a4a" stroke-width="1.0"/>
<line x1="142.0" y1="1453.5" x2="144.5" y2="1453.5" stroke="#4a4a4a" stroke-width="1.0"/>
<line x1="142.0" y1="1466.9" x2="146.0" y2="1466.9" stroke="#4a4a4a" stroke-width="1.0"/>
<line x1="142.0" y1="1480.3" x2="144.5" y2="1480.3" stroke="#4a4a4a" stroke-width="1.0"/>
<line x1="142.0" y1="1493.7" x2="144.5" y2="1493.7" stroke="#4a4a4a" stroke-width="1.0"/>
<line x1="142.0" y1="1507.1" x2="144.5" y2="1507.1" stroke="#4a4a4a" stroke-width="1.0"/>
<line x1="142.0" y1="1520.5" x2="144.5" y2="1520.5" stroke="#4a4a4a" stroke-width="1.0"/>
<line x1="142.0" y1="1533.9" x2="146.0" y2="1533.9" stroke="#4a4a4a" stroke-width="1.0"/>
<line x1="142.0" y1="1547.3" x2="144.5" y2="1547.3" stroke="#4a4a4a" stroke-width="1.0"/>
<line x1="142.0" y1="1560.8" x2="144.5" y2="1560.8" stroke="#4a4a4a" stroke-width="1.0"/>
<line x1="142.0" y1="1574.2" x2="144.5" y2="1574.2" stroke="#4a4a4a" stroke-width="1.0"/>
<line x1="142.0" y1="1587.6" x2="144.5" y2="1587.6" stroke="#4a4a4a" stroke-width="1.0"/>
<line x1="142.0" y1="1601.0" x2="146.0" y2="1601.0" stroke="#4a4a4a" stroke-width="1.0"/>
<line x1="142.0" y1="1614.4" x2="144.5" y2="1614.4" stroke="#4a4a4a" stroke-width="1.0"/>
<line x1="142.0" y1="1627.8" x2="144.5" y2="1627.8" stroke="#4a4a4a" stroke-width="1.0"/>
<line x1="142.0" y1="1641.2" x2="144.5" y2="1641.2" stroke="#4a4a4a" stroke-width="1.0"/>
<line x1="142.0" y1="1654.6" x2="144.5" y2="1654.6" stroke="#4a4a4a" stroke-width="1.0"/>
<line x1="142.0" y1="1668.0" x2="146.0" y2="1668.0" stroke="#4a4a4a" stroke-width="1.0"/>
<line x1="142.0" y1="1681.4" x2="144.5" y2="1681.4" stroke="#4a4a4a" stroke-width="1.0"/>
<line x1="142.0" y1="1694.8" x2="144.5" y2="1694.8" stroke="#4a4a4a" stroke-width="1.0"/>
<line x1="142.0" y1="1708.3" x2="144.5" y2="1708.3" stroke="#4a4a4a" stroke-width="1.0"/>
<line x1="142.0" y1="1721.7" x2="144.5" y2="1721.7" stroke="#4a4a4a" stroke-width="1.0"/>
<line x1="142.0" y1="1735.1" x2="146.0" y2="1735.1" stroke="#4a4a4a" stroke-width="1.0"/>
<line x1="142.0" y1="1748.5" x2="144.5" y2="1748.5" stroke="#4a4a4a" stroke-width="1.0"/>
<line x1="142.0" y1="1761.9" x2="144.5" y2="1761.9" stroke="#4a4a4a" stroke-width="1.0"/>
<line x1="142.0" y1="1775.3" x2="144.5" y2="1775.3" stroke="#4a4a4a" stroke-width="1.0"/>
<line x1="142.0" y1="1788.7" x2="144.5" y2="1788.7" stroke="#4a4a4a" stroke-width="1.0"/>
<line x1="167.3" y1="1802.2" x2="167.3" y2="1799.7" stroke="#4a4a4a" stroke-width="1.0"/>
<line x1="192.8" y1="1802.2" x2="192.8" y2="1799.7" stroke="#4a4a4a" stroke-width="1.0"/>
<line x1="218.3" y1="1802.2" x2="218.3" y2="1799.7" stroke="#4a4a4a" stroke-width="1.0"/>
<line x1="243.7" y1="1802.2" x2="243.7" y2="1799.7" stroke="#4a4a4a" stroke-width="1.0"/>
<line x1="269.2" y1="1802.2" x2="269.2" y2="1798.2" stroke="#4a4a4a" stroke-width="1.0"/>
<line x1="294.7" y1="1802.2" x2="294.7" y2="1799.7" stroke="#4a4a4a" stroke-width="1.0"/>
<line x1="320.2" y1="1802.2" x2="320.2" y2="1799.7" stroke="#4a4a4a" stroke-width="1.0"/>
<line x1="345.7" y1="1802.2" x2="345.7" y2="1799.7" stroke="#4a4a4a" stroke-width="1.0"/>
<line x1="371.1" y1="1802.2" x2="371.1" y2="1799.7" stroke="#4a4a4a" stroke-width="1.0"/>
<line x1="396.6" y1="1802.2" x2="396.6" y2="1798.2" stroke="#4a4a4a" stroke-width="1.0"/>
<line x1="422.1" y1="1802.2" x2="422.1" y2="1799.7" stroke="#4a4a4a" stroke-width="1.0"/>
<line x1="447.6" y1="1802.2" x2="447.6" y2="1799.7" stroke="#4a4a4a" stroke-width="1.0"/>
<line x1="473.1" y1="1802.2" x2="473.1" y2="1799.7" stroke="#4a4a4a" stroke-width="1.0"/>
<line x1="498.5" y1="1802.2" x2="498.5" y2="1799.7" stroke="#4a4a4a" stroke-width="1.0"/>
<line x1="524.0" y1="1802.2" x2="524.0" y2="1798.2" stroke="#4a4a4a" stroke-width="1.0"/>
<line x1="549.5" y1="1802.2" x2="549.5" y2="1799.7" stroke="#4a4a4a" stroke-width="1.0"/>
<line x1="575.0" y1="1802.2" x2="575.0" y2="1799.7" stroke="#4a4a4a" stroke-width="1.0"/>
<line x1="600.5" y1="1802.2" x2="600.5" y2="1799.7" stroke="#4a4a4a" stroke-width="1.0"/>
<line x1="625.9" y1="1802.2" x2="625.9" y2="1799.7" stroke="#4a4a4a" stroke-width="1.0"/>
<line x1="651.4" y1="1802.2" x2="651.4" y2="1798.2" stroke="#4a4a4a" stroke-width="1.0"/>
<line x1="676.9" y1="1802.2" x2="676.9" y2="1799.7" stroke="#4a4a4a" stroke-width="1.0"/>
<line x1="702.4" y1="1802.2" x2="702.4" y2="1799.7" stroke="#4a4a4a" stroke-width="1.0"/>
<line x1="727.9" y1="1802.2" x2="727.9" y2="1799.7" stroke="#4a4a4a" stroke-width="1.0"/>
<line x1="753.3" y1="1802.2" x2="753.3" y2="1799.7" stroke="#4a4a4a" stroke-width="1.0"/>
<line x1="778.8" y1="1802.2" x2="778.8" y2="1798.2" stroke="#4a4a4a" stroke-width="1.0"/>
<line x1="804.3" y1="1802.2" x2="804.3" y2="1799.7" stroke="#4a4a4a" stroke-width="1.0"/>
<line x1="829.8" y1="1802.2" x2="829.8" y2="1799.7" stroke="#4a4a4a" stroke-width="1.0"/>
<line x1="855.3" y1="1802.2" x2="855.3" y2="1799.7" stroke="#4a4a4a" stroke-width="1.0"/>
<text x="8.41" y="1475.80" font-size="25.60" textLength="131.07" lengthAdjust="spacingAndGlyphs" class="t">3.220950375</text>
<text x="8.41" y="1542.40" font-size="25.60" textLength="130.48" lengthAdjust="spacingAndGlyphs" class="t">3.220950374</text>
<text x="8.41" y="1609.30" font-size="25.60" textLength="131.07" lengthAdjust="spacingAndGlyphs" class="t">3.220950373</text>
<text x="8.40" y="1676.60" font-size="25.60" textLength="131.48" lengthAdjust="spacingAndGlyphs" class="t">3.220950372</text>
<text x="8.40" y="1743.50" font-size="25.60" textLength="131.61" lengthAdjust="spacingAndGlyphs" class="t">3.220950371</text>
<text x="203.89" y="1832.20" font-size="26.00" textLength="138.23" lengthAdjust="spacingAndGlyphs" class="t">1.0785195358</text>
<text x="456.89" y="1832.20" font-size="26.00" textLength="138.23" lengthAdjust="spacingAndGlyphs" class="t">1.0785195458</text>
<text x="708.77" y="1832.20" font-size="26.00" textLength="139.05" lengthAdjust="spacingAndGlyphs" class="t">1.0785195558</text>
<text x="98.58" y="1373.55" font-size="35.28" textLength="25.08" lengthAdjust="spacingAndGlyphs" font-style="italic">E</text>
<text x="122.03" y="1379.22" font-size="23.86" textLength="14.04" lengthAdjust="spacingAndGlyphs">0</text>
<text x="761.33" y="1787.87" font-size="38.76" textLength="24.60" lengthAdjust="spacingAndGlyphs">&lt;</text>
<text x="870.92" y="1787.87" font-size="38.76" textLength="24.24" lengthAdjust="spacingAndGlyphs">&gt;</text>
<text x="795.87" y="1782.99" font-size="27.03" textLength="14.88" lengthAdjust="spacingAndGlyphs" font-style="italic">e</text>
<text x="812.26" y="1769.48" font-size="20.99" textLength="47.83" lengthAdjust="spacingAndGlyphs" font-style="italic">x+p</text>
<text x="361.66" y="1338.90" font-size="34.00" textLength="26.25" lengthAdjust="spacingAndGlyphs" font-style="italic">K</text>
<text x="398.40" y="1338.90" font-size="34.00" textLength="27.15" lengthAdjust="spacingAndGlyphs">=</text>
<text x="434.72" y="1338.90" font-size="34.00" textLength="26.29" lengthAdjust="spacingAndGlyphs">4,</text>
<text x="465.24" y="1338.90" font-size="34.00" textLength="22.11" lengthAdjust="spacingAndGlyphs" font-style="italic" font-family="DejaVu Serif, serif">ℏ</text>
<text x="492.41" y="1338.90" font-size="34.00" textLength="27.03" lengthAdjust="spacingAndGlyphs">=</text>
<text x="554.56" y="1338.90" font-size="34.00" textLength="66.39" lengthAdjust="spacingAndGlyphs">(dim</text>
<text x="629.10" y="1338.90" font-size="34.00" textLength="28.36" lengthAdjust="spacingAndGlyphs">=</text>
<text x="664.63" y="1338.90" font-size="34.00" textLength="44.64" lengthAdjust="spacingAndGlyphs">25)</text>
<line x1="531.9" y1="1330.9" x2="548.7" y2="1330.9" stroke="#000" stroke-width="1.45"/>
<text x="531.33" y="1316.90" font-size="34.00" textLength="17.00" lengthAdjust="spacingAndGlyphs">1</text>
<text x="531.73" y="1362.00" font-size="34.00" textLength="17.00" lengthAdjust="spacingAndGlyphs">4</text>
<polygon points="1119.5,1738.1 1121.7,1732.3 1136.8,1706.0 1140.0,1702.6 1147.2,1697.8 1152.6,1690.0 1156.0,1687.7 1161.7,1678.6 1165.1,1675.1 1175.4,1667.2 1180.7,1658.0 1202.0,1640.2 1209.0,1630.0 1346.9,1511.3 1351.4,1511.3 1380.0,1487.0 1384.6,1487.0 1402.9,1470.6 1407.4,1470.6 1426.9,1454.6 1431.4,1454.6 1441.7,1446.6 1446.3,1446.6 1460.0,1435.1 1463.4,1435.1 1473.7,1426.0 1477.1,1426.0 1484.4,1422.7 1497.4,1414.8 1518.3,1405.3 1535.7,1397.4 1553.1,1390.5 1563.6,1386.1 1577.5,1382.3 1591.4,1380.5 1594.9,1377.9 1655.0,1377.9 1661.1,1381.8 1673.3,1387.0 1686.3,1394.8 1697.7,1403.5 1707.2,1415.7 1720.3,1438.4 1730.7,1468.0 1736.0,1481.9 1741.2,1501.0 1743.8,1518.5 1743.8,1566.3 1735.0,1566.3 1734.6,1566.3 1732.0,1570.3 1724.5,1570.3 1721.9,1574.3 1714.4,1574.3 1711.8,1578.4 1704.3,1578.4 1701.7,1582.4 1694.2,1582.4 1691.6,1586.0 1684.1,1586.0 1681.5,1589.5 1674.0,1589.5 1671.4,1593.1 1663.9,1593.1 1661.3,1596.6 1653.8,1596.6 1651.2,1600.1 1643.7,1600.1 1641.1,1603.7 1633.6,1603.7 1631.0,1607.1 1623.5,1607.1 1620.9,1610.4 1613.4,1610.4 1610.8,1613.8 1603.3,1613.8 1600.7,1617.2 1593.2,1617.2 1590.6,1620.5 1583.1,1620.5 1580.5,1623.9 1573.0,1623.9 1570.4,1627.6 1562.9,1627.6 1560.3,1631.7 1552.8,1631.7 1550.2,1635.7 1542.7,1635.7 1540.1,1639.8 1532.6,1639.8 1530.0,1643.8 1522.5,1643.8 1519.9,1647.9 1512.4,1647.9 1509.8,1651.8 1502.3,1651.8 1499.7,1655.5 1492.2,1655.5 1489.6,1659.2 1482.1,1659.2 1479.5,1662.9 1472.0,1662.9 1469.4,1666.6 1461.9,1666.6 1459.3,1670.2 1451.8,1670.2 1449.2,1673.9 1441.7,1673.9 1439.1,1677.4 1431.6,1677.4 1429.0,1680.8 1421.5,1680.8 1418.9,1684.3 1411.4,1684.3 1408.8,1687.7 1401.3,1687.7 1398.7,1691.2 1391.2,1691.2 1388.6,1694.6 1381.1,1694.6 1375.4,1694.6 1370.9,1698.7 1362.9,1698.7 1358.3,1702.6 1349.1,1702.6 1344.6,1706.7 1338.9,1706.7 1333.1,1711.0 1327.4,1711.0 1322.9,1715.1 1312.6,1715.1 1308.0,1719.3 1301.1,1719.3 1296.6,1723.1 1287.4,1723.1 1282.9,1726.6 1274.9,1726.6 1269.1,1730.7 1260.0,1730.7 1255.4,1734.6 1245.1,1734.6 1239.4,1738.4 1232.6,1738.4 1226.9,1742.6 1217.7,1742.6 1212.0,1746.0 1199.4,1746.0 1193.7,1750.6 1184.6,1750.6 1180.0,1754.0 1161.7,1754.0 1157.1,1758.2 1129.0,1758.2 1119.5,1750.3" fill="#dfebfa" stroke="#5f6190" stroke-width="1.25" stroke-linejoin="round"/>
<line x1="1096.6" y1="1357.9" x2="1096.6" y2="1774.3" stroke="#4a4a4a" stroke-width="1.3"/>
<line x1="1083.0" y1="1766.4" x2="1756.8" y2="1766.4" stroke="#4a4a4a" stroke-width="1.3"/>
<line x1="1096.6" y1="1366.6" x2="1100.6" y2="1366.6" stroke="#4a4a4a" stroke-width="1.0"/>
<line x1="1096.6" y1="1382.6" x2="1099.1" y2="1382.6" stroke="#4a4a4a" stroke-width="1.0"/>
<line x1="1096.6" y1="1398.6" x2="1099.1" y2="1398.6" stroke="#4a4a4a" stroke-width="1.0"/>
<line x1="1096.6" y1="1414.6" x2="1099.1" y2="1414.6" stroke="#4a4a4a" stroke-width="1.0"/>
<line x1="1096.6" y1="1430.6" x2="1099.1" y2="1430.6" stroke="#4a4a4a" stroke-width="1.0"/>
<line x1="1096.6" y1="1446.6" x2="1100.6" y2="1446.6" stroke="#4a4a4a" stroke-width="1.0"/>
<line x1="1096.6" y1="1462.7" x2="1099.1" y2="1462.7" stroke="#4a4a4a" stroke-width="1.0"/>
<line x1="1096.6" y1="1478.7" x2="1099.1" y2="1478.7" stroke="#4a4a4a" stroke-width="1.0"/>
<line x1="1096.6" y1="1494.7" x2="1099.1" y2="1494.7" stroke="#4a4a4a" stroke-width="1.0"/>
<line x1="1096.6" y1="1510.7" x2="1099.1" y2="1510.7" stroke="#4a4a4a" stroke-width="1.0"/>
<line x1="1096.6" y1="1526.7" x2="1100.6" y2="1526.7" stroke="#4a4a4a" stroke-width="1.0"/>
<line x1="1096.6" y1="1542.7" x2="1099.1" y2="1542.7" stroke="#4a4a4a" stroke-width="1.0"/>
<line x1="1096.6" y1="1558.7" x2="1099.1" y2="1558.7" stroke="#4a4a4a" stroke-width="1.0"/>
<line x1="1096.6" y1="1574.7" x2="1099.1" y2="1574.7" stroke="#4a4a4a" stroke-width="1.0"/>
<line x1="1096.6" y1="1590.7" x2="1099.1" y2="1590.7" stroke="#4a4a4a" stroke-width="1.0"/>
<line x1="1096.6" y1="1606.8" x2="1100.6" y2="1606.8" stroke="#4a4a4a" stroke-width="1.0"/>
<line x1="1096.6" y1="1622.8" x2="1099.1" y2="1622.8" stroke="#4a4a4a" stroke-width="1.0"/>
<line x1="1096.6" y1="1638.8" x2="1099.1" y2="1638.8" stroke="#4a4a4a" stroke-width="1.0"/>
<line x1="1096.6" y1="1654.8" x2="1099.1" y2="1654.8" stroke="#4a4a4a" stroke-width="1.0"/>
<line x1="1096.6" y1="1670.8" x2="1099.1" y2="1670.8" stroke="#4a4a4a" stroke-width="1.0"/>
<line x1="1096.6" y1="1686.8" x2="1100.6" y2="1686.8" stroke="#4a4a4a" stroke-width="1.0"/>
<line x1="1096.6" y1="1702.8" x2="1099.1" y2="1702.8" stroke="#4a4a4a" stroke-width="1.0"/>
<line x1="1096.6" y1="1718.8" x2="1099.1" y2="1718.8" stroke="#4a4a4a" stroke-width="1.0"/>
<line x1="1096.6" y1="1734.8" x2="1099.1" y2="1734.8" stroke="#4a4a4a" stroke-width="1.0"/>
<line x1="1096.6" y1="1750.8" x2="1099.1" y2="1750.8" stroke="#4a4a4a" stroke-width="1.0"/>
<line x1="1119.4" y1="1766.4" x2="1119.4" y2="1763.9" stroke="#4a4a4a" stroke-width="1.0"/>
<line x1="1142.7" y1="1766.4" x2="1142.7" y2="1763.9" stroke="#4a4a4a" stroke-width="1.0"/>
<line x1="1166.0" y1="1766.4" x2="1166.0" y2="1763.9" stroke="#4a4a4a" stroke-width="1.0"/>
<line x1="1189.4" y1="1766.4" x2="1189.4" y2="1762.4" stroke="#4a4a4a" stroke-width="1.0"/>
<line x1="1212.7" y1="1766.4" x2="1212.7" y2="1763.9" stroke="#4a4a4a" stroke-width="1.0"/>
<line x1="1236.0" y1="1766.4" x2="1236.0" y2="1763.9" stroke="#4a4a4a" stroke-width="1.0"/>
<line x1="1259.3" y1="1766.4" x2="1259.3" y2="1763.9" stroke="#4a4a4a" stroke-width="1.0"/>
<line x1="1282.6" y1="1766.4" x2="1282.6" y2="1762.4" stroke="#4a4a4a" stroke-width="1.0"/>
<line x1="1306.0" y1="1766.4" x2="1306.0" y2="1763.9" stroke="#4a4a4a" stroke-width="1.0"/>
<line x1="1329.3" y1="1766.4" x2="1329.3" y2="1763.9" stroke="#4a4a4a" stroke-width="1.0"/>
<line x1="1352.6" y1="1766.4" x2="1352.6" y2="1763.9" stroke="#4a4a4a" stroke-width="1.0"/>
<line x1="1375.9" y1="1766.4" x2="1375.9" y2="1762.4" stroke="#4a4a4a" stroke-width="1.0"/>
<line x1="1399.2" y1="1766.4" x2="1399.2" y2="1763.9" stroke="#4a4a4a" stroke-width="1.0"/>
<line x1="1422.6" y1="1766.4" x2="1422.6" y2="1763.9" stroke="#4a4a4a" stroke-width="1.0"/>
<line x1="1445.9" y1="1766.4" x2="1445.9" y2="1763.9" stroke="#4a4a4a" stroke-width="1.0"/>
<line x1="1469.2" y1="1766.4" x2="1469.2" y2="1762.4" stroke="#4a4a4a" stroke-width="1.0"/>
<line x1="1492.5" y1="1766.4" x2="1492.5" y2="1763.9" stroke="#4a4a4a" stroke-width="1.0"/>
<line x1="1515.8" y1="1766.4" x2="1515.8" y2="1763.9" stroke="#4a4a4a" stroke-width="1.0"/>
<line x1="1539.2" y1="1766.4" x2="1539.2" y2="1763.9" stroke="#4a4a4a" stroke-width="1.0"/>
<line x1="1562.5" y1="1766.4" x2="1562.5" y2="1762.4" stroke="#4a4a4a" stroke-width="1.0"/>
<line x1="1585.8" y1="1766.4" x2="1585.8" y2="1763.9" stroke="#4a4a4a" stroke-width="1.0"/>
<line x1="1609.1" y1="1766.4" x2="1609.1" y2="1763.9" stroke="#4a4a4a" stroke-width="1.0"/>
<line x1="1632.4" y1="1766.4" x2="1632.4" y2="1763.9" stroke="#4a4a4a" stroke-width="1.0"/>
<line x1="1655.8" y1="1766.4" x2="1655.8" y2="1762.4" stroke="#4a4a4a" stroke-width="1.0"/>
<line x1="1679.1" y1="1766.4" x2="1679.1" y2="1763.9" stroke="#4a4a4a" stroke-width="1.0"/>
<line x1="1702.4" y1="1766.4" x2="1702.4" y2="1763.9" stroke="#4a4a4a" stroke-width="1.0"/>
<line x1="1725.7" y1="1766.4" x2="1725.7" y2="1763.9" stroke="#4a4a4a" stroke-width="1.0"/>
<line x1="1749.0" y1="1766.4" x2="1749.0" y2="1762.4" stroke="#4a4a4a" stroke-width="1.0"/>
<text x="931.03" y="1455.00" font-size="23.60" textLength="161.74" lengthAdjust="spacingAndGlyphs" class="t">3.1760360382175</text>
<text x="931.03" y="1534.70" font-size="23.60" textLength="161.74" lengthAdjust="spacingAndGlyphs" class="t">3.1760360381675</text>
<text x="931.03" y="1609.70" font-size="23.60" textLength="161.74" lengthAdjust="spacingAndGlyphs" class="t">3.1760360381175</text>
<text x="931.03" y="1691.20" font-size="23.60" textLength="161.74" lengthAdjust="spacingAndGlyphs" class="t">3.1760360380675</text>
<text x="1117.80" y="1796.40" font-size="25.20" textLength="135.45" lengthAdjust="spacingAndGlyphs" class="t">1.06176262775</text>
<text x="1306.09" y="1796.40" font-size="25.20" textLength="135.66" lengthAdjust="spacingAndGlyphs" class="t">1.06176262815</text>
<text x="1495.81" y="1796.40" font-size="25.20" textLength="134.23" lengthAdjust="spacingAndGlyphs" class="t">1.06176262855</text>
<text x="1675.30" y="1796.40" font-size="25.20" textLength="135.45" lengthAdjust="spacingAndGlyphs" class="t">1.06176262895</text>
<text x="1055.56" y="1374.25" font-size="33.29" textLength="24.17" lengthAdjust="spacingAndGlyphs" font-style="italic">E</text>
<text x="1078.09" y="1379.23" font-size="22.67" textLength="13.21" lengthAdjust="spacingAndGlyphs">0</text>
<text x="1680.20" y="1754.94" font-size="37.31" textLength="23.75" lengthAdjust="spacingAndGlyphs">&lt;</text>
<text x="1784.15" y="1754.94" font-size="37.31" textLength="22.78" lengthAdjust="spacingAndGlyphs">&gt;</text>
<text x="1713.26" y="1750.29" font-size="26.20" textLength="13.63" lengthAdjust="spacingAndGlyphs" font-style="italic">e</text>
<text x="1729.14" y="1737.31" font-size="20.39" textLength="44.80" lengthAdjust="spacingAndGlyphs" font-style="italic">x+p</text>
<text x="1312.91" y="1375.60" font-size="31.00" textLength="23.11" lengthAdjust="spacingAndGlyphs" font-style="italic">K</text>
<text x="1345.94" y="1375.60" font-size="31.00" textLength="24.48" lengthAdjust="spacingAndGlyphs">=</text>
<text x="1379.18" y="1375.60" font-size="31.00" textLength="23.82" lengthAdjust="spacingAndGlyphs">4,</text>
<text x="1407.23" y="1375.60" font-size="31.00" textLength="19.55" lengthAdjust="spacingAndGlyphs" font-style="italic" font-family="DejaVu Serif, serif">ℏ</text>
<text x="1431.44" y="1375.60" font-size="31.00" textLength="25.57" lengthAdjust="spacingAndGlyphs">=</text>
<text x="1487.97" y="1375.60" font-size="31.00" textLength="61.54" lengthAdjust="spacingAndGlyphs">(dim</text>
<text x="1557.44" y="1375.60" font-size="31.00" textLength="24.48" lengthAdjust="spacingAndGlyphs">=</text>
<text x="1589.94" y="1375.60" font-size="31.00" textLength="41.22" lengthAdjust="spacingAndGlyphs">25)</text>
<line x1="1468.8" y1="1367.9" x2="1483.7" y2="1367.9" stroke="#000" stroke-width="1.45"/>
<text x="1468.07" y="1355.00" font-size="31.00" textLength="15.50" lengthAdjust="spacingAndGlyphs">1</text>
<text x="1468.20" y="1396.30" font-size="31.00" textLength="15.50" lengthAdjust="spacingAndGlyphs">5</text>
</svg></body></html>
